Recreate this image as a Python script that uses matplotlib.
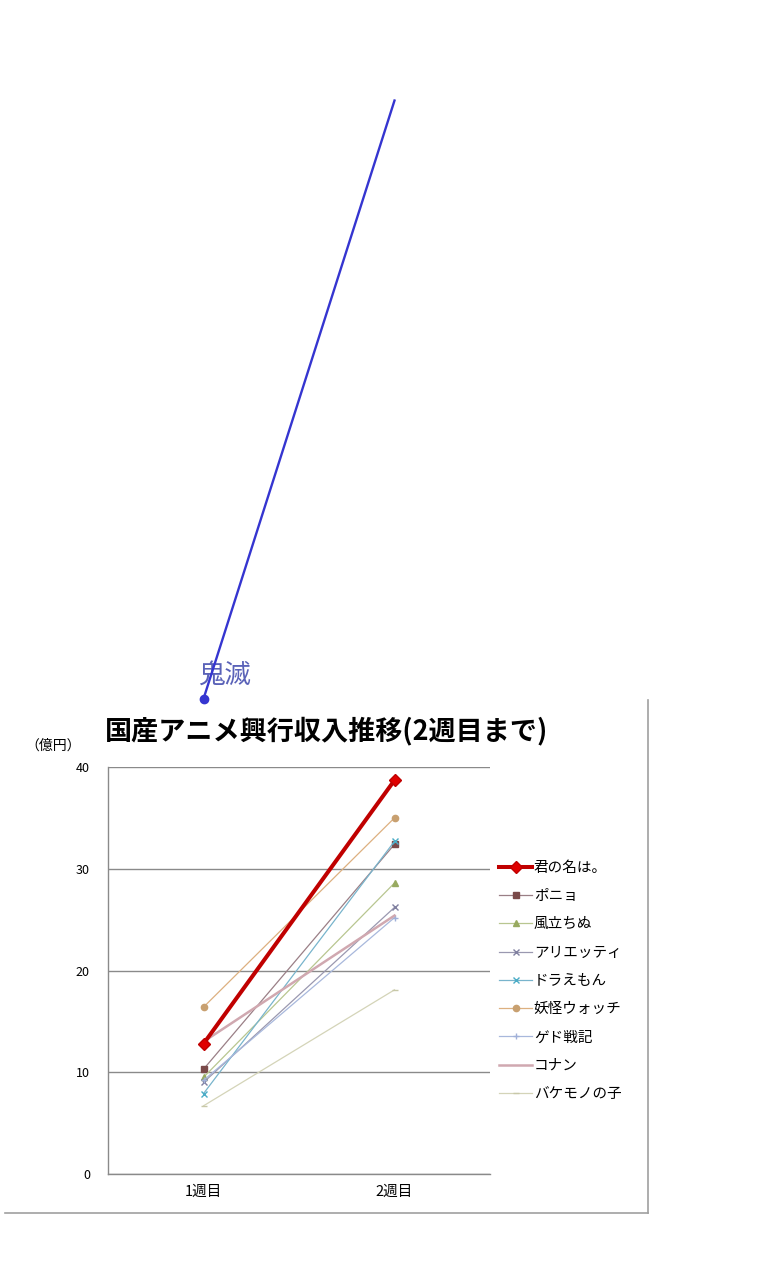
import matplotlib
matplotlib.use("Agg")
import matplotlib.pyplot as plt
from matplotlib.lines import Line2D

plt.rcParams['font.family'] = ['Noto Sans CJK JP', 'DejaVu Sans']

weeks = ["1週目", "2週目"]
titles = ["君の名は。", "ポニョ", "風立ちぬ", "アリエッティ", "ドラえもん",
          "妖怪ウォッチ", "ゲド戦記", "コナン", "バケモノの子"]
kimi = [12.8, 38.7]
ponyo = [10.3, 32.4]
kazetachinu = [9.5, 28.6]
arrietty = [9.0, 26.2]
doraemon = [7.9, 32.7]
youkai = [16.4, 35.0]
gedo = [9.2, 25.2]
conan = [13.0, 25.4]
bakemono = [6.7, 18.1]
kimetsu = [46.7, 105.5]
kimetsu_label = "鬼滅"
yticks = [0, 10, 20, 30, 40]

series = [kimi, ponyo, kazetachinu, arrietty, doraemon, youkai, gedo, conan, bakemono]
styles = [
    dict(color="#C00000", lw=2.9, marker="D", ms=6, mfc="#E00000", mec="#C00000"),
    dict(color="#9A7F86", lw=0.9, marker="s", ms=4.5, mfc="#7A4A4A", mec="#7A4A4A"),
    dict(color="#B8C690", lw=0.9, marker="^", ms=4.5, mfc="#98AA60", mec="#98AA60"),
    dict(color="#9A98B0", lw=0.9, marker="x", ms=5, mfc="#8080A0", mec="#8080A0"),
    dict(color="#78B4CC", lw=0.9, marker="x", ms=4.5, mfc="#4AACC6", mec="#4AACC6"),
    dict(color="#DDB080", lw=0.9, marker="o", ms=4.5, mfc="#C8A070", mec="#C8A070"),
    dict(color="#A8B8DC", lw=0.9, marker="+", ms=5, mfc="#A0B0D8", mec="#A0B0D8"),
    dict(color="#D0A8B0", lw=1.8, marker=None),
    dict(color="#D4D4B8", lw=0.9, marker="_", ms=5, mfc="#C8C8A8", mec="#C8C8A8"),
]

fig = plt.figure(figsize=(7.62, 12.8), dpi=100)
ax = fig.add_axes([108/762, 1 - 1174/1280, 382/762, 407/1280])

x = list(range(len(weeks)))
for name, vals, st in zip(titles, series, styles):
    ax.plot(x, vals, label=name, zorder=3 if name == "君の名は。" else 2, **st)

# 鬼滅 line extending beyond the axes
ax.plot(x, kimetsu, color="#3535D0", lw=1.7, clip_on=False, zorder=5)
ax.plot([x[0]], [kimetsu[0]], marker="o", ms=6, color="#3535D0", clip_on=False, zorder=5)
ax.text(x[0] - 0.03, kimetsu[0] + 2.3, kimetsu_label, fontsize=19, color="#5A62B8",
        ha="left", va="center", clip_on=False)

ax.set_xlim(-0.5, 1.5)
ax.set_ylim(0, 40)
ax.set_yticks(yticks)
ax.set_yticklabels([str(v) for v in yticks], fontsize=9)
ax.set_xticks(x)
ax.set_xticklabels(weeks, fontsize=10.5)
ax.tick_params(length=0, pad=13)
ax.tick_params(axis="x", pad=8)
ax.yaxis.grid(True, color="#8A8A8A", lw=1.0)
ax.set_axisbelow(True)
for s in ["top", "right"]:
    ax.spines[s].set_visible(False)
for s in ["left", "bottom"]:
    ax.spines[s].set_color("#8A8A8A")
    ax.spines[s].set_linewidth(1.0)

fig.text(327/762, 1 - 731/1280, "国産アニメ興行収入推移(2週目まで)", fontsize=19.5,
         fontweight="bold", ha="center", va="center")
fig.text(53/762, 1 - 746/1280, "（億円）", fontsize=10, ha="center", va="center")

leg = fig.legend(loc="upper left", bbox_to_anchor=(493/762, 1 - 855/1280),
                 frameon=False, fontsize=10.5, handlelength=2.3, handletextpad=0.1,
                 labelspacing=0.98, borderaxespad=0)

# outer chart frame
fig.add_artist(Line2D([648/762, 648/762], [1 - 700/1280, 1 - 1213/1280],
                      transform=fig.transFigure, color="#A0A0A0", lw=1.2))
fig.add_artist(Line2D([5/762, 648/762], [1 - 1213/1280, 1 - 1213/1280],
                      transform=fig.transFigure, color="#A0A0A0", lw=1.2))

fig.savefig("out.png", dpi=100)
